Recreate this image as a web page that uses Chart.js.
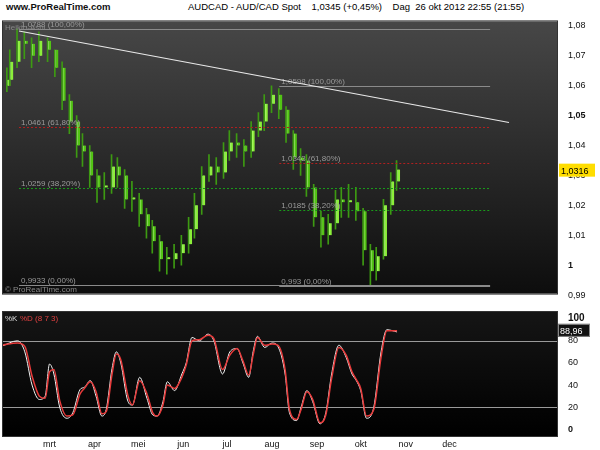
<!DOCTYPE html>
<html><head><meta charset="utf-8">
<script src="https://cdn.jsdelivr.net/npm/chart.js@4"></script>
<style>
body{margin:0;background:#fff;font-family:"Liberation Sans",Arial,sans-serif;}
#hdr{position:absolute;left:0;top:0;width:600px;height:13px;font-size:9.5px;font-weight:bold;color:#111}
#c1{position:absolute;left:0;top:13px}
#c2{position:absolute;left:0;top:303px}
</style></head><body>
<div id="hdr"><span style="position:absolute;left:6px;top:1px">www.ProRealTime.com</span>
<span style="position:absolute;left:188px;top:1px;font-weight:normal;color:#000">AUDCAD - AUD/CAD Spot &nbsp;&nbsp; 1,0345 (+0,45%) &nbsp;&nbsp; Dag &nbsp;26 okt 2012 22:55 (21:55)</span></div>
<canvas id="c1" width="600" height="289"></canvas>
<canvas id="c2" width="600" height="147"></canvas>
<script>
// days counted from 1 Feb 2012
const candleDays=[0,2,7,12,17,22,28,33,38,43,48,52,57,62,67,72,76,81,86,91,96,100,105,110,115,120,125,129,134,139,144,149,153,158,163,168,173,177,182,187,192,197,202,206,211,216,221,226,230,235,240,245,250,254,259,264,268];
const closes=[1.062,1.068,1.075,1.074,1.070,1.075,1.072,1.066,1.055,1.048,1.040,1.038,1.030,1.026,1.026,1.033,1.030,1.022,1.022,1.017,1.013,1.008,1.002,1.002,1.004,1.007,1.012,1.020,1.030,1.033,1.031,1.038,1.041,1.040,1.038,1.045,1.048,1.054,1.057,1.052,1.044,1.036,1.035,1.026,1.016,1.010,1.014,1.022,1.021,1.021,1.018,1.005,0.998,1.003,1.020,1.028,1.032];
const highs=[1.066,1.072,1.079,1.078,1.076,1.078,1.076,1.072,1.068,1.057,1.050,1.044,1.040,1.032,1.031,1.037,1.036,1.032,1.028,1.024,1.019,1.015,1.010,1.006,1.007,1.010,1.016,1.024,1.033,1.037,1.036,1.041,1.045,1.044,1.042,1.048,1.051,1.057,1.060,1.059,1.053,1.045,1.039,1.037,1.027,1.018,1.017,1.025,1.026,1.027,1.026,1.019,1.007,1.006,1.022,1.031,1.035];
const lows=[1.058,1.060,1.066,1.069,1.066,1.068,1.068,1.063,1.052,1.044,1.036,1.033,1.026,1.021,1.022,1.024,1.026,1.019,1.018,1.013,1.009,1.004,0.998,0.997,0.999,1.000,1.004,1.009,1.017,1.028,1.027,1.029,1.035,1.036,1.033,1.036,1.043,1.045,1.051,1.049,1.041,1.032,1.030,1.023,1.013,1.006,1.007,1.012,1.016,1.016,1.015,1.000,0.993,0.995,1.002,1.017,1.025];
const firstOpen=1.060;
const stochDays=[-4,7,12,17,22,26,29,32,36,41,45,50,53,57,61,65,68,72,75,78,83,86,91,96,100,103,107,110,115,120,123,127,132,138,142,148,153,158,162,166,169,172,177,182,186,191,194,199,202,206,210,215,219,223,228,233,237,240,243,247,252,257,261,268];
const stochK=[75,80,70,40,27,30,59,50,20,10,15,36,38,44,30,12,18,55,70,60,25,22,47,28,13,12,25,43,35,50,60,83,80,86,80,50,70,73,60,47,70,84,74,78,75,50,15,8,20,35,25,5,15,50,76,65,50,44,35,10,20,70,90,88];
const stochD=[76,78,75,48,30,28,52,54,26,12,13,32,37,43,34,14,16,50,68,63,30,22,44,32,15,12,22,40,37,47,58,80,81,85,82,54,67,73,62,49,67,83,76,77,76,54,18,9,18,34,27,6,13,46,74,67,52,45,37,12,18,65,89,89];
const monthDays=[29,60,90,121,151,182,213,243,274,304];
const monthLabels=['mrt','apr','mei','jun','jul','aug','sep','okt','nov','dec'];
const priceTicks=[0.99,1,1.01,1.02,1.03,1.04,1.05,1.06,1.07,1.08];
const stochTicks=[0,20,40,60,80,100];
// fibonacci sets: [startDay,endDay,level,label,colour-kind]
const fibLevels=[[8,332,1.0788,'1,0788 (100,00%)','g'],[8,332,1.0461,'1,0461 (61,80%)','r'],[8,332,1.0259,'1,0259 (38,20%)','d'],[8,332,0.9933,'0,9933 (0,00%)','g'],
 [187,332,1.0598,'1,0598 (100,00%)','g'],[187,332,1.0343,'1,0343 (61,80%)','r'],[187,332,1.0185,'1,0185 (38,20%)','d'],[187,332,0.993,'0,993 (0,00%)','g']];
const trendLine=[[8,1.0783],[345,1.0477]];
const lastPrice=1.0316, lastStoch='88,96';

const XMIN=-3, XMAX=378;
const opens=closes.map((c,i)=>i?closes[i-1]:firstOpen);
const fmt=v=>(Math.round(v*100)/100).toString().replace('.',',');
function yAxisFit(s){s.width=43;}

const bgPlugin={id:'bg',beforeDraw(ch){const a=ch.chartArea,c=ch.ctx;
  const g=c.createLinearGradient(0,a.top,0,a.bottom);
  if(ch.canvas.id==='c1'){g.addColorStop(0,'#474747');g.addColorStop(1,'#0d0d0d');}else{g.addColorStop(0,'#151515');g.addColorStop(1,'#000');}
  c.save();c.fillStyle=g;c.fillRect(a.left,a.top,a.right-a.left,a.bottom-a.top);
  c.strokeStyle='#333';c.lineWidth=1;c.strokeRect(a.left-0.5,a.top-0.5,a.right-a.left+1,a.bottom-a.top+1);c.restore();}};

const fibPlugin={id:'fib',afterDatasetsDraw(ch){const c=ch.ctx,x=ch.scales.x,y=ch.scales.y,a=ch.chartArea;
  c.save();c.font='8px "Liberation Sans",Arial';
  fibLevels.forEach(f=>{const x0=x.getPixelForValue(f[0]),x1=x.getPixelForValue(f[1]),yy=Math.round(y.getPixelForValue(f[2]))+0.5;
    c.strokeStyle=f[4]==='g'?'#8a8a8a':f[4]==='r'?'#b02020':'#1a9a1a';c.lineWidth=1;
    c.setLineDash(f[4]==='g'?[]:[2,2]);c.beginPath();c.moveTo(x0,yy);c.lineTo(x1,yy);c.stroke();
    c.fillStyle='#9a9a9a';c.fillText(f[3],x0+2,yy-3);});
  c.setLineDash([]);c.strokeStyle='#e8e8e8';c.lineWidth=1.2;c.beginPath();
  c.moveTo(x.getPixelForValue(trendLine[0][0]),y.getPixelForValue(trendLine[0][1]));
  c.lineTo(x.getPixelForValue(trendLine[1][0]),y.getPixelForValue(trendLine[1][1]));c.stroke();
  c.fillStyle='#888';c.fillText('Heikin-Ashi',a.left+2,a.top+9);
  c.fillText('© ProRealTime.com',a.left+2,a.bottom-2);
  const py=y.getPixelForValue(lastPrice);c.fillStyle='#ffdd00';c.fillRect(a.right+2,py-7,36,13);
  c.fillStyle='#000';c.font='9px "Liberation Sans",Arial';c.fillText('1,0316',a.right+4,py+3);
  c.restore();}};

new Chart(document.getElementById('c1'),{
 data:{datasets:[
  {type:'bar',data:candleDays.map((d,i)=>({x:d,y:[lows[i],highs[i]]})),backgroundColor:'#3d9a12',barThickness:1},
  {type:'bar',data:candleDays.map((d,i)=>({x:d,y:[Math.min(opens[i],closes[i]),Math.max(opens[i],closes[i])]})),
   backgroundColor:closes.map((c,i)=>c>=opens[i]?'#8cf03a':'#52c414'),borderColor:'#d8ffb0',borderWidth:{left:1,right:0,top:0,bottom:0},barThickness:3,minBarLength:2}
 ]},
 options:{responsive:false,animation:false,layout:{padding:{left:3,top:1,right:0,bottom:0}},
  plugins:{legend:{display:false},tooltip:{enabled:false}},
  scales:{x:{type:'linear',offset:false,min:XMIN,max:XMAX,display:false},
   y:{position:'right',min:0.9905,max:1.0815,afterFit:yAxisFit,grid:{display:false,drawTicks:true},border:{display:false},
    afterBuildTicks(s){s.ticks=priceTicks.map(v=>({value:v}));},
    ticks:{color:'#111',padding:3,font:c=>({size:9,family:'"Liberation Sans",Arial',weight:(c.tick&&(c.tick.value===1||c.tick.value===1.05))?'bold':'normal'}),callback:v=>fmt(v)}}}},
 plugins:[bgPlugin,fibPlugin]});

const stochPlugin={id:'st',afterDraw(ch){const c=ch.ctx,a=ch.chartArea,y=ch.scales.y;c.save();
  c.font='8px "Liberation Sans",Arial';c.fillStyle='#ddd';c.fillText('%K',a.left+2,a.top+9);
  c.fillStyle='#e04040';c.fillText('%D (8 7 3)',a.left+17,a.top+9);
  const py=y.getPixelForValue(88.96);c.fillStyle='#111';c.fillRect(a.right+1,py-7,32,13);c.strokeStyle='#888';c.strokeRect(a.right+1.5,py-6.5,31,12);
  c.fillStyle='#fff';c.font='9px "Liberation Sans",Arial';c.fillText(lastStoch,a.right+3,py+3);c.restore();}};
const levelPlugin={id:'lv',beforeDatasetsDraw(ch){const c=ch.ctx,a=ch.chartArea,y=ch.scales.y;c.save();c.strokeStyle='#9a9a9a';c.lineWidth=1;
  [20,80].forEach(v=>{const yy=Math.round(y.getPixelForValue(v))+0.5;c.beginPath();c.moveTo(a.left,yy);c.lineTo(a.right,yy);c.stroke();});c.restore();}};

new Chart(document.getElementById('c2'),{
 type:'line',
 data:{datasets:[
  {data:stochDays.map((d,i)=>({x:d,y:stochD[i]})),borderColor:'#e83a3a',borderWidth:1.5,pointRadius:0,tension:0.4,cubicInterpolationMode:'monotone'},
  {data:stochDays.map((d,i)=>({x:d,y:stochK[i]})),borderColor:'#f2f2f2',borderWidth:1,pointRadius:0,tension:0.4,cubicInterpolationMode:'monotone'}]},
 options:{responsive:false,animation:false,layout:{padding:{left:3,top:3,right:0,bottom:0}},
  plugins:{legend:{display:false},tooltip:{enabled:false}},
  scales:{x:{type:'linear',offset:false,min:XMIN,max:XMAX,grid:{display:false,drawTicks:false,tickLength:0},border:{display:false},afterFit(s){s.height=14;},
    afterBuildTicks(s){s.ticks=monthDays.map(v=>({value:v}));},
    ticks:{color:'#111',font:{size:9,family:'"Liberation Sans",Arial'},maxRotation:0,autoSkip:false,padding:3,callback:v=>monthLabels[monthDays.indexOf(v)]}},
   y:{position:'right',min:-6,max:106,afterFit:yAxisFit,grid:{display:false},border:{display:false},
    afterBuildTicks(s){s.ticks=stochTicks.map(v=>({value:v}));},
    ticks:{color:'#111',padding:3,font:c=>({size:c.tick&&c.tick.value===100?10:9,family:'"Liberation Sans",Arial',weight:(c.tick&&(c.tick.value===100||c.tick.value===0))?'bold':'normal'})}}}},
 plugins:[bgPlugin,levelPlugin,stochPlugin]});
</script></body></html>
